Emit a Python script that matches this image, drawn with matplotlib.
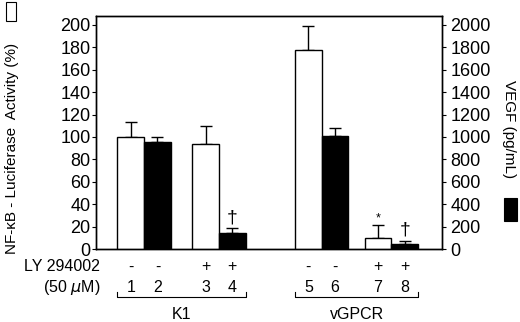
import matplotlib.pyplot as plt
import matplotlib.transforms as mtransforms
from matplotlib.patches import Rectangle

plt.rcParams['font.family'] = ['Liberation Sans', 'DejaVu Sans']

# lanes 1..8, white bars = NF-kB luciferase (%), black bars = VEGF (pg/mL)
lanes = ['1', '2', '3', '4', '5', '6', '7', '8']
ly_treat = ['-', '-', '+', '+', '-', '-', '+', '+']
luc_lanes = [0, 2, 4, 6]
luc_vals = [100, 94, 178, 10]
luc_err = [13, 16, 21, 11]
vegf_lanes = [1, 3, 5, 7]
vegf_vals = [958, 140, 1010, 42]
vegf_err = [45, 45, 74, 32]
groups = ['K1', 'vGPCR']
group_lanes = [(0, 3), (4, 7)]

# x position of each lane (bar width = 1)
xpos = [1.3, 2.3, 4.1, 5.1, 7.95, 8.95, 10.55, 11.55]

fig = plt.figure(figsize=(5.2, 3.22), dpi=100)
ax = fig.add_axes([96/520, 73/322, 346/520, 233/322])
ax2 = ax.twinx()

xl = [xpos[i] for i in luc_lanes]
xv = [xpos[i] for i in vegf_lanes]
ax.bar(xl, luc_vals, width=1, color='white', edgecolor='black', linewidth=1, zorder=3)
ax.errorbar(xl, luc_vals, yerr=[[0]*4, luc_err], fmt='none', ecolor='black',
            elinewidth=1, capsize=4, capthick=1, zorder=2)
ax2.bar(xv, vegf_vals, width=1, color='black', edgecolor='black', linewidth=1, zorder=3)
ax2.errorbar(xv, vegf_vals, yerr=[[0]*4, vegf_err], fmt='none', ecolor='black',
             elinewidth=1, capsize=4, capthick=1, zorder=2)

ax.set_xlim(0, 12.95)
ax.set_ylim(0, 208)
ax2.set_ylim(0, 2080)
ax.set_yticks(range(0, 201, 20))
ax2.set_yticks(range(0, 2001, 200))
ax.set_xticks([])
ax.tick_params(axis='y', labelsize=13, length=3, pad=1)
ax2.tick_params(axis='y', labelsize=13, length=3, pad=3)
for a in (ax, ax2):
    for s in a.spines.values():
        s.set_linewidth(1)

# significance marks
ax2.text(xpos[3], vegf_vals[1] + vegf_err[1] + 20, '\u2020', ha='center', va='bottom', fontsize=14)
ax2.text(xpos[7], vegf_vals[3] + vegf_err[3] + 20, '\u2020', ha='center', va='bottom', fontsize=14)
ax.text(xpos[6], luc_vals[3] + luc_err[3] + 1, '*', ha='center', va='bottom', fontsize=9)

ax.set_ylabel('NF-\u03baB - Luciferase  Activity (%)', fontsize=11, va='center', ha='center')
ax.yaxis.set_label_coords(-0.244, 0.43)
ax2.set_ylabel('VEGF (pg/mL)', fontsize=11, rotation=-90, va='center', ha='center')
ax2.yaxis.set_label_coords(1.194, 0.515)

# labels under the axes
tr = mtransforms.blended_transform_factory(ax.transData, ax.transAxes)
for x, t, n in zip(xpos, ly_treat, lanes):
    ax.text(x, -0.077, t, transform=tr, ha='center', va='center', fontsize=11.5)
    ax.text(x, -0.167, n, transform=tr, ha='center', va='center', fontsize=11.5)
for g, (a, b) in zip(groups, group_lanes):
    x0, x1 = xpos[a] - 0.5, xpos[b] + 0.5
    ax.plot([x0, x0, x1, x1], [-0.185, -0.206, -0.206, -0.185], transform=tr,
            color='black', lw=0.8, clip_on=False)
    ax.text((x0 + x1) / 2, -0.283, g, transform=tr, ha='center', va='center', fontsize=11.5)
ax.text(0.012, -0.077, 'LY 294002', transform=ax.transAxes, ha='right', va='center', fontsize=11.5)
ax.text(0.012, -0.167, '(50 $\\mathit{\\mu}$M)', transform=ax.transAxes, ha='right', va='center', fontsize=11.5)

# legend squares
fig.patches.append(Rectangle((6/520, 1 - 21/322), 10/520, 19/322, transform=fig.transFigure,
                             facecolor='white', edgecolor='black', lw=0.8))
fig.patches.append(Rectangle((504/520, 1 - 221/322), 13/520, 23/322, transform=fig.transFigure,
                             facecolor='black', edgecolor='black', lw=0.8))

fig.savefig('out.png', dpi=100)
